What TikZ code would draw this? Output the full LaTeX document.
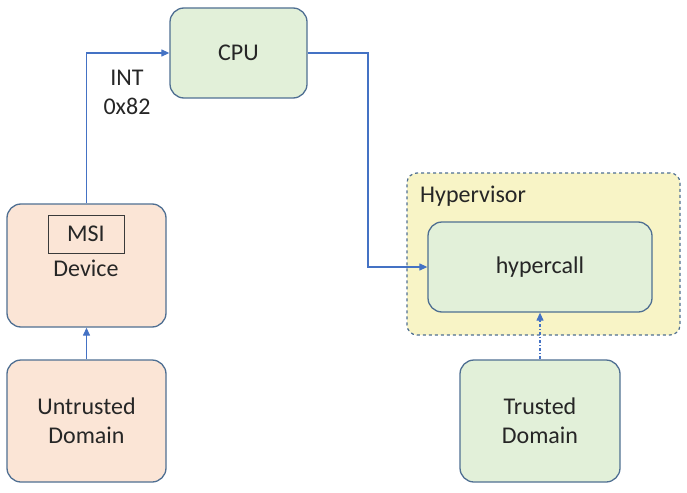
\documentclass[tikz,border=0pt]{standalone}
\usepackage{fontspec}
\setmainfont{Carlito}
\usetikzlibrary{arrows.meta}
\definecolor{bordc}{HTML}{4F6F92}
\definecolor{linec}{HTML}{4472C4}
\definecolor{peach}{HTML}{FBE5D6}
\definecolor{mint}{HTML}{E2F0D9}
\definecolor{lemon}{HTML}{F8F4C6}
\definecolor{msic}{HTML}{3A3A3A}
\tikzset{
  x=1pt,y=-1pt,
  txt/.style={font=\fontsize{24}{29}\selectfont,text=black!85},
  box/.style={txt,draw=bordc,line width=1.3pt,rounded corners=14pt,align=center,inner sep=0pt},
  conn/.style={draw=linec,line width=1.2pt,-{Triangle[length=8pt,width=7pt]}},
}
\begin{document}
\begin{tikzpicture}
\useasboundingbox (0,0) rectangle (687,492);
% Hypervisor container
\node[draw=bordc,dashed,fill=lemon,line width=1.2pt,rounded corners=10pt,minimum width=273pt,minimum height=162pt,inner sep=0pt] (hv) at (543.5,254) {};
\node[txt,anchor=west,inner sep=0pt] (hvl) at (420,196) {Hypervisor};
% boxes
\node[box,fill=mint,minimum width=137pt,minimum height=90pt] (cpu) at (238.5,53) {CPU};
\node[box,fill=peach,minimum width=159pt,minimum height=123pt] (dev) at (86.5,265.5) {};
\node[txt,draw=msic,line width=1pt,minimum width=76pt,minimum height=38pt,inner sep=0pt] (msi) at (86,234) {MSI};
\node[txt,inner sep=0pt] (devl) at (86,268) {Device};
\node[box,fill=peach,minimum width=159pt,minimum height=122pt] (ud) at (86.5,421) {Untrusted\\Domain};
\node[box,fill=mint,minimum width=224pt,minimum height=90pt] (hc) at (540,267) {hypercall};
\node[box,fill=mint,minimum width=160pt,minimum height=122pt] (td) at (540,421) {Trusted\\Domain};
% connectors
\draw[conn] (ud.north) -- (dev.south);
\draw[conn] (dev.north) |- (cpu.west);
\node[txt,align=center,inner sep=0pt] (intl) at (127,92) {INT\\0x82};
\coordinate (bend) at (368,53);
\draw[conn] (cpu.east) -- (bend) |- (hc.west);
\draw[conn,dash dot] (td.north) -- (hc.south);
\end{tikzpicture}
\end{document}
